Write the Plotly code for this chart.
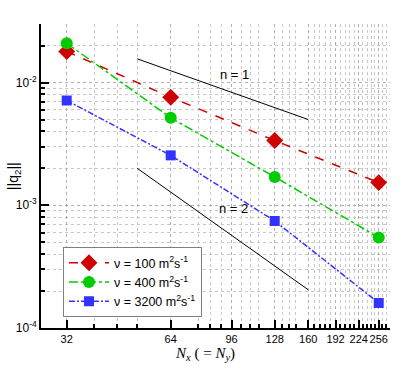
import math

import plotly.graph_objects as go

# grid resolution (N_x) and error norms
n_x = [32, 64, 128, 256]
err_nu100 = [0.0179, 0.0076, 0.00337, 0.00153]
err_nu400 = [0.0209, 0.00516, 0.00170, 0.000546]
err_nu3200 = [0.00714, 0.00255, 0.000745, 0.000160]

# slope reference lines
ref_x = [51.2, 160]
ref_n1 = [0.0156, 0.0050]
ref_n2 = [0.0020, 0.000205]

x_ticks = [32, 64, 96, 128, 160, 192, 224, 256]
x_minor = [38.4, 44.8, 51.2, 76.8, 83.2, 89.6, 102.4, 108.8, 115.2,
           134.4, 140.8, 147.2, 166.4, 172.8, 179.2, 185.6,
           198.4, 204.8, 211.2, 217.6, 230.4, 236.8, 243.2, 249.6,
           262.4, 268.8, 275.2]
y_ticks = [1e-4, 1e-3, 1e-2]
y_ticktext = ["10<sup>-4</sup>", "10<sup>-3</sup>", "10<sup>-2</sup>"]
y_minor = [k * 10.0 ** e for e in (-4, -3, -2) for k in range(2, 10)]

series = [
    ("ν = 100 m<sup>2</sup>s<sup>-1</sup>", err_nu100, "#d00000", "diamond", 13, "dash"),
    ("ν = 400 m<sup>2</sup>s<sup>-1</sup>", err_nu400, "#00cc00", "circle", 12, "dashdot"),
    ("ν = 3200 m<sup>2</sup>s<sup>-1</sup>", err_nu3200, "#3333ff", "square", 10, "6px,2px,2px,2px"),
]

fig = go.Figure()

for name, ys, color, symbol, size, dash in series:
    fig.add_trace(
        go.Scatter(
            x=n_x,
            y=ys,
            name=name,
            mode="lines+markers",
            line=dict(color=color, width=1.5, dash=dash),
            marker=dict(symbol=symbol, size=size, color=color),
        )
    )

# n = 1 and n = 2 slope guides
for ref in (ref_n1, ref_n2):
    fig.add_trace(
        go.Scatter(
            x=ref_x,
            y=ref,
            mode="lines",
            line=dict(color="black", width=1),
            showlegend=False,
            hoverinfo="skip",
        )
    )

# annotations on log axes take log10 positions
fig.add_annotation(x=math.log10(98), y=math.log10(0.0116), text="n = 1",
                   showarrow=False, font=dict(size=13, color="black"))
fig.add_annotation(x=math.log10(97), y=math.log10(0.000946), text="n = 2",
                   showarrow=False, font=dict(size=13, color="black"))

# axis titles placed as paper annotations
fig.add_annotation(
    x=0.47, y=-0.048, xref="paper", yref="paper", yanchor="top",
    text="<i>N</i><sub><i>x</i></sub> ( = <i>N</i><sub><i>y</i></sub>)",
    showarrow=False,
    font=dict(family="Liberation Serif, Times New Roman, serif", size=15, color="black"),
)
fig.add_annotation(
    x=-0.077, y=0.5, xref="paper", yref="paper", xanchor="center",
    text="||q<sub>2</sub>||", textangle=-90, showarrow=False,
    font=dict(size=14, color="black"),
)

axis_common = dict(
    showline=True,
    linecolor="black",
    linewidth=2,
    mirror=False,
    ticks="inside",
    ticklen=8,
    tickwidth=2,
    tickcolor="black",
    showgrid=True,
    gridcolor="#b0b0b0",
    gridwidth=1,
    griddash="dot",
    zeroline=False,
    automargin=False,
)

fig.update_xaxes(
    type="log",
    range=[1.4307, 2.4409],
    tickmode="array",
    tickvals=x_ticks,
    ticktext=[str(v) for v in x_ticks],
    tickangle=0,
    tickfont=dict(size=11, color="black"),
    minor=dict(tickmode="array", tickvals=x_minor, ticks="inside", ticklen=4,
               tickcolor="black", showgrid=True, gridcolor="#c8c8c8",
               griddash="dot", gridwidth=1),
    **axis_common,
)

fig.update_yaxes(
    type="log",
    range=[-4, -1.5229],
    tickmode="array",
    tickvals=y_ticks,
    ticktext=y_ticktext,
    tickfont=dict(size=12, color="black"),
    minor=dict(tickmode="array", tickvals=y_minor, ticks="inside", ticklen=4,
               tickcolor="black", showgrid=True, gridcolor="#c8c8c8",
               griddash="dot", gridwidth=1),
    **axis_common,
)

fig.update_layout(
    width=415,
    height=369,
    margin=dict(l=41, r=25, t=24, b=41),
    paper_bgcolor="white",
    plot_bgcolor="white",
    font=dict(family="Liberation Sans, Arial, sans-serif", size=12, color="black"),
    legend=dict(
        x=0.063,
        y=0.266,
        xanchor="left",
        yanchor="top",
        bgcolor="white",
        bordercolor="#808080",
        borderwidth=1,
        font=dict(size=12.5),
        tracegroupgap=0,
        itemwidth=40,
    ),
)

# drop the page's default body margin so the figure sits at the window origin
fig.write_html(
    "out.html",
    config={"displayModeBar": False},
    post_script="document.body.style.margin='0';",
)
